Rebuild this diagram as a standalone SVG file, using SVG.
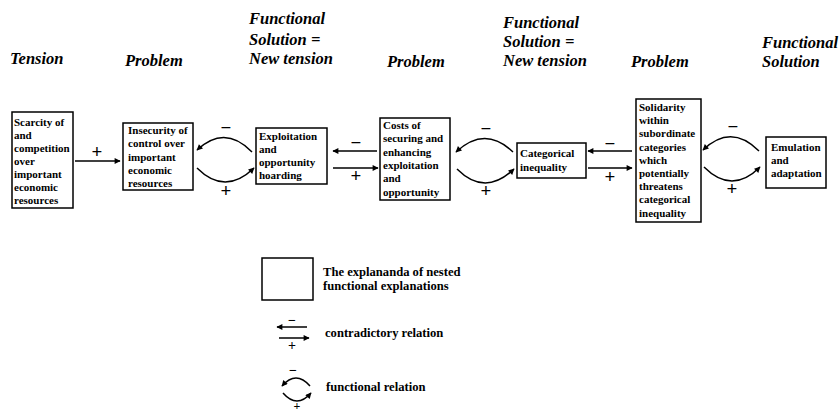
<svg xmlns="http://www.w3.org/2000/svg" width="840" height="412" viewBox="0 0 840 412">
<defs>
<marker id="ah" viewBox="0 0 10 10" refX="9" refY="5" markerWidth="8" markerHeight="6" markerUnits="userSpaceOnUse" orient="auto">
<path d="M0,0 L10,5 L0,10 z" fill="#000"/>
</marker>
<style>
text{font-family:'Liberation Serif','Times New Roman',Tinos,'DejaVu Serif',serif;fill:#000}
.hd{font-weight:bold;font-style:italic;font-size:16.5px}
.bx{font-weight:bold;font-size:11px}
.lg{font-weight:bold;font-size:12.6px}
.sg{font-weight:bold;font-size:19px;text-anchor:middle}
.box{fill:#fff;stroke:#000;stroke-width:1.5}
.ln{fill:none;stroke:#000;stroke-width:1.5;marker-end:url(#ah)}
</style>
</defs>
<rect width="840" height="412" fill="#fff"/>
<g id="headers">
<text class="hd" x="10" y="64">Tension</text>
<text class="hd" x="125" y="66">Problem</text>
<text class="hd" x="249" y="24">Functional</text>
<text class="hd" x="249" y="45">Solution =</text>
<text class="hd" x="249" y="64">New tension</text>
<text class="hd" x="387" y="67">Problem</text>
<text class="hd" x="503" y="28">Functional</text>
<text class="hd" x="503" y="47">Solution =</text>
<text class="hd" x="503" y="66">New tension</text>
<text class="hd" x="631" y="67">Problem</text>
<text class="hd" x="762" y="48">Functional</text>
<text class="hd" x="762" y="67">Solution</text>
</g>
<g id="n1">
<rect class="box" x="12" y="112" width="61" height="96"/>
<text class="bx"><tspan x="14" y="125.5">Scarcity of</tspan><tspan x="14" y="138.6">and</tspan><tspan x="14" y="151.7">competition</tspan><tspan x="14" y="164.8">over</tspan><tspan x="14" y="177.9">important</tspan><tspan x="14" y="191">economic</tspan><tspan x="14" y="204">resources</tspan></text>
</g>
<g id="n2">
<rect class="box" x="123" y="123" width="70" height="67"/>
<text class="bx"><tspan x="128" y="134">Insecurity of</tspan><tspan x="128" y="147.3">control over</tspan><tspan x="128" y="160.6">important</tspan><tspan x="128" y="173.9">economic</tspan><tspan x="128" y="187.2">resources</tspan></text>
</g>
<g id="n3">
<rect class="box" x="256" y="128" width="71" height="56"/>
<text class="bx"><tspan x="259" y="140">Exploitation</tspan><tspan x="259" y="153">and</tspan><tspan x="259" y="166">opportunity</tspan><tspan x="259" y="179">hoarding</tspan></text>
</g>
<g id="n4">
<rect class="box" x="380" y="118" width="70" height="82"/>
<text class="bx"><tspan x="383" y="129">Costs of</tspan><tspan x="383" y="142.3">securing and</tspan><tspan x="383" y="155.6">enhancing</tspan><tspan x="383" y="168.9">exploitation</tspan><tspan x="383" y="182.2">and</tspan><tspan x="383" y="195.5">opportunity</tspan></text>
</g>
<g id="n5">
<rect class="box" x="517" y="143" width="69" height="35"/>
<text class="bx"><tspan x="520" y="157">Categorical</tspan><tspan x="520" y="170.5">inequality</tspan></text>
</g>
<g id="n6">
<rect class="box" x="636" y="99" width="65" height="123"/>
<text class="bx"><tspan x="639" y="111">Solidarity</tspan><tspan x="639" y="124.2">within</tspan><tspan x="639" y="137.4">subordinate</tspan><tspan x="639" y="150.6">categories</tspan><tspan x="639" y="163.8">which</tspan><tspan x="639" y="177">potentially</tspan><tspan x="639" y="190.2">threatens</tspan><tspan x="639" y="203.4">categorical</tspan><tspan x="639" y="216.6">inequality</tspan></text>
</g>
<g id="n7">
<rect class="box" x="766" y="137" width="60" height="51"/>
<text class="bx"><tspan x="771" y="151">Emulation</tspan><tspan x="771" y="164">and</tspan><tspan x="771" y="177">adaptation</tspan></text>
</g>
<g id="connectors">
<path class="ln" d="M75,161 L120,161"/>
<text class="sg" x="97" y="158">+</text>
<path class="ln" d="M252,152 Q225,124 197,150"/>
<path class="ln" d="M197,168 Q225,196 254,168"/>
<text class="sg" x="226" y="134">−</text>
<text class="sg" x="226" y="197">+</text>
<path class="ln" d="M377,151 L333,151"/>
<path class="ln" d="M333,168 L378,168"/>
<text class="sg" x="356" y="149">−</text>
<text class="sg" x="356" y="182">+</text>
<path class="ln" d="M513,152 Q485,125 456,152"/>
<path class="ln" d="M457,169 Q485,197 514,169"/>
<text class="sg" x="486" y="135">−</text>
<text class="sg" x="486" y="197">+</text>
<path class="ln" d="M632,151 L588,151"/>
<path class="ln" d="M588,168 L632,168"/>
<text class="sg" x="610" y="150">−</text>
<text class="sg" x="610" y="183">+</text>
<path class="ln" d="M759,151 Q731,123 703,150"/>
<path class="ln" d="M704,167 Q732,195 760,167"/>
<text class="sg" x="733" y="133">−</text>
<text class="sg" x="732" y="195">+</text>
</g>
<g id="legend">
<rect class="box" x="262" y="258" width="51" height="42"/>
<text class="lg"><tspan x="323" y="276">The explananda of nested</tspan><tspan x="323" y="290">functional explanations</tspan></text>
<path class="ln" d="M307,327 L277,327"/>
<path class="ln" d="M279,338 L309,338"/>
<text class="sg" x="292" y="325" style="font-size:14px">−</text>
<text class="sg" x="292" y="350" style="font-size:14px">+</text>
<text class="lg" x="325" y="337">contradictory relation</text>
<path class="ln" d="M310,386 Q296,370 282,386"/>
<path class="ln" d="M283,393 Q297,409 311,393"/>
<text class="sg" x="293" y="375" style="font-size:14px">−</text>
<text class="sg" x="297" y="410" style="font-size:12px">+</text>
<text class="lg" x="326" y="391">functional relation</text>
</g>
</svg>
